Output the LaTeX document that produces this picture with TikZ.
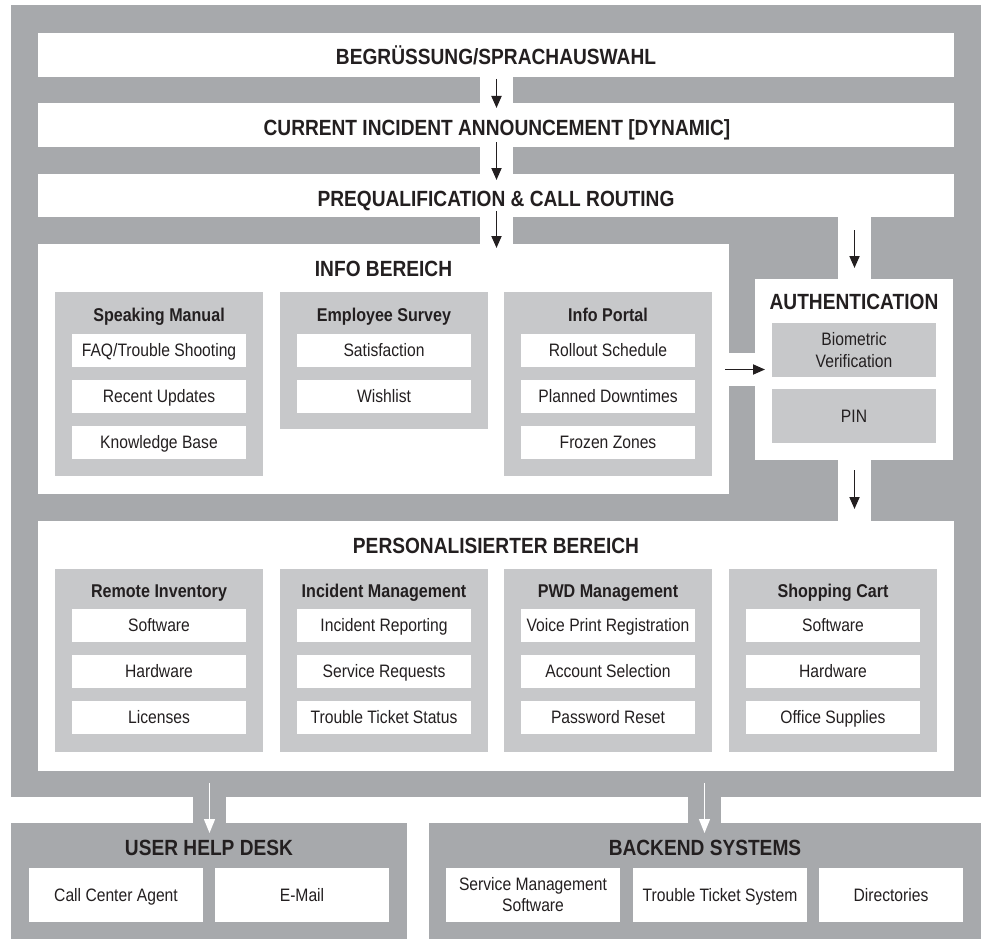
\documentclass[tikz,border=0pt]{standalone}
\usepackage{fontspec}
\setmainfont{Liberation Sans}[FakeStretch=0.87]
\usetikzlibrary{arrows.meta,calc}
\definecolor{dgray}{HTML}{A7A9AC}
\definecolor{lgray}{HTML}{C7C8CA}
\definecolor{ink}{HTML}{231F20}
\newcommand\mkbox[7]{\node[#1, inner sep=0pt, outer sep=0pt, minimum width={(#5)-(#3)}, minimum height={(#6)-(#4)}] (#2) at ({((#3)+(#5))/2},{((#4)+(#6))/2}) {#7};}
\tikzset{
  dark/.style={fill=dgray},
  light/.style={fill=lgray},
  wbox/.style={fill=white},
  itembox/.style={fill=white, text=ink, font=\fontsize{18}{21}\selectfont, text height=12.8pt, text depth=0pt},
  itembox2/.style={fill=white, text=ink, font=\fontsize{18}{21}\selectfont, align=center},
  authbox/.style={fill=lgray, text=ink, font=\fontsize{18}{22}\selectfont, align=center},
  authbox1/.style={fill=lgray, text=ink, font=\fontsize{18}{21}\selectfont, text height=12.8pt, text depth=0pt},
  ttl/.style={anchor=base, inner sep=0pt, text=ink, font=\fontsize{22}{26}\selectfont\bfseries},
  subttl/.style={anchor=base, inner sep=0pt, text=ink, font=\fontsize{18.5}{21}\selectfont\bfseries},
  barr/.style={draw=ink, line width=1.8pt, -{Triangle[length=12pt,width=10pt]}},
  warr/.style={draw=white, line width=1.3pt, -{Triangle[length=14pt,width=11pt]}}
}
\begin{document}
\begin{tikzpicture}[x=1pt,y=-1pt]
\useasboundingbox (0,0) rectangle (981,939);
% frame and main bands
\mkbox{dark}{outer}{11}{5}{981}{797}{}
\mkbox{wbox}{bar1}{38}{33}{954}{77}{}
\mkbox{wbox}{bar2}{38}{103}{954}{147}{}
\mkbox{wbox}{bar3}{38}{174}{954}{217}{}
\mkbox{wbox}{ch1}{480}{76}{513}{104}{}
\mkbox{wbox}{ch2}{480}{146}{513}{175}{}
\mkbox{wbox}{ch3}{480}{216}{513}{245}{}
\mkbox{wbox}{ch4}{838}{216}{871}{280}{}
\mkbox{wbox}{info}{38}{244}{729}{494}{}
\mkbox{wbox}{auth}{755}{279}{953}{460}{}
\mkbox{wbox}{ch5}{728}{353}{756}{386}{}
\mkbox{wbox}{ch6}{838}{459}{871}{522}{}
\mkbox{wbox}{pers}{38}{521}{954}{771}{}
\mkbox{dark}{stub1}{193}{796}{226}{824}{}
\mkbox{dark}{stub2}{688}{796}{721}{824}{}
\mkbox{dark}{uhd}{11}{823}{407}{939}{}
\mkbox{dark}{backend}{429}{823}{981}{939}{}
% titles
\node[ttl] (t1) at (496,65) {BEGRÜSSUNG/SPRACHAUSWAHL};
\node[ttl] (t2) at (497,135) {CURRENT INCIDENT ANNOUNCEMENT [DYNAMIC]};
\node[ttl] (t3) at (496,206) {PREQUALIFICATION \& CALL ROUTING};
\node[ttl] (tinfo) at (383.5,276) {INFO BEREICH};
\node[ttl] (tauth) at (854,309) {AUTHENTICATION};
\node[ttl] (tpers) at (496,553) {PERSONALISIERTER BEREICH};
\node[ttl] (tuhd) at (209,855) {USER HELP DESK};
\node[ttl] (tback) at (705,855) {BACKEND SYSTEMS};
% info bereich
\mkbox{light}{sm}{55}{292}{263}{476}{}
\mkbox{light}{es}{280}{292}{488}{429}{}
\mkbox{light}{ip}{504}{292}{712}{476}{}
\node[subttl] (hsm) at (159,321) {Speaking Manual};
\node[subttl] (hes) at (384,321) {Employee Survey};
\node[subttl] (hip) at (608,321) {Info Portal};
\mkbox{itembox}{sm1}{72}{334}{246}{367}{FAQ/Trouble Shooting}
\mkbox{itembox}{sm2}{72}{380}{246}{413}{Recent Updates}
\mkbox{itembox}{sm3}{72}{426}{246}{459}{Knowledge Base}
\mkbox{itembox}{es1}{297}{334}{471}{367}{Satisfaction}
\mkbox{itembox}{es2}{297}{380}{471}{413}{Wishlist}
\mkbox{itembox}{ip1}{521}{334}{695}{367}{Rollout Schedule}
\mkbox{itembox}{ip2}{521}{380}{695}{413}{Planned Downtimes}
\mkbox{itembox}{ip3}{521}{426}{695}{459}{Frozen Zones}
% authentication
\mkbox{authbox}{bio}{772}{323}{936}{377}{Biometric\\Verification}
\mkbox{authbox1}{pin}{772}{389}{936}{443}{PIN}
% personalisierter bereich
\mkbox{light}{ri}{55}{569}{263}{752}{}
\mkbox{light}{im}{280}{569}{488}{752}{}
\mkbox{light}{pw}{504}{569}{712}{752}{}
\mkbox{light}{sc}{729}{569}{937}{752}{}
\node[subttl] (hri) at (159,597.5) {Remote Inventory};
\node[subttl] (him) at (384,597.5) {Incident Management};
\node[subttl] (hpw) at (608,597.5) {PWD Management};
\node[subttl] (hsc) at (833,597.5) {Shopping Cart};
\mkbox{itembox}{ri1}{72}{609}{246}{642}{Software}
\mkbox{itembox}{ri2}{72}{655}{246}{688}{Hardware}
\mkbox{itembox}{ri3}{72}{701}{246}{734}{Licenses}
\mkbox{itembox}{im1}{297}{609}{471}{642}{Incident Reporting}
\mkbox{itembox}{im2}{297}{655}{471}{688}{Service Requests}
\mkbox{itembox}{im3}{297}{701}{471}{734}{Trouble Ticket Status}
\mkbox{itembox}{pw1}{521}{609}{695}{642}{Voice Print Registration}
\mkbox{itembox}{pw2}{521}{655}{695}{688}{Account Selection}
\mkbox{itembox}{pw3}{521}{701}{695}{734}{Password Reset}
\mkbox{itembox}{sc1}{746}{609}{920}{642}{Software}
\mkbox{itembox}{sc2}{746}{655}{920}{688}{Hardware}
\mkbox{itembox}{sc3}{746}{701}{920}{734}{Office Supplies}
% bottom boxes
\mkbox{itembox}{u1}{29}{868}{203}{922}{Call Center Agent}
\mkbox{itembox}{u2}{215}{868}{389}{922}{E-Mail}
\mkbox{itembox2}{b1}{446}{868}{620}{922}{Service Management\\Software}
\mkbox{itembox}{b2}{633}{868}{807}{922}{Trouble Ticket System}
\mkbox{itembox}{b3}{819}{868}{963}{922}{Directories}
% arrows
\draw[barr] ([yshift=-3pt]ch1.north) -- ([yshift=-4pt]ch1.south);
\draw[barr] ([yshift=4pt]ch2.north) -- ([yshift=-5pt]ch2.south);
\draw[barr] ([yshift=5pt]ch3.north) -- ([yshift=-3pt]ch3.south);
\draw[barr] ([yshift=-14pt]ch4.north) -- ([yshift=12pt]ch4.south);
\draw[barr] ([xshift=-3pt]ch5.west) -- ([xshift=9pt]ch5.east);
\draw[barr] ([yshift=-11pt]ch6.north) -- ([yshift=13pt]ch6.south);
\draw[warr] ([yshift=13pt]stub1.north) -- ([yshift=-9pt]stub1.south);
\draw[warr] ([yshift=13pt]stub2.north) -- ([yshift=-9pt]stub2.south);
\end{tikzpicture}
\end{document}
